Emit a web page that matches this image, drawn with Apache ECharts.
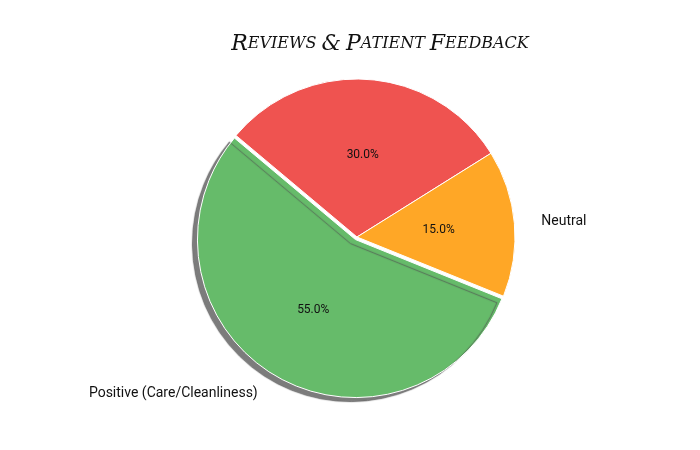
<!DOCTYPE html>
<html><head><meta charset="utf-8">
<script src="https://cdn.jsdelivr.net/npm/echarts@6/dist/echarts.min.js"></script>
<style>html,body{margin:0;background:#fff}#c{width:700px;height:450px}</style>
</head><body><div id="c"></div>
<script>
const categories = ['Negative', 'Neutral', 'Positive (Care/Cleanliness)'];
const values = [30, 15, 55];
const outerLabels = ['', 'Neutral', 'Positive (Care/Cleanliness)'];
const colors = ['#EF5350', '#FFA726', '#66BB6A'];

const chart = echarts.init(document.getElementById('c'));
const common = {
  type: 'pie', center: [357, 237], radius: 158, startAngle: 140,
  clockwise: true, selectedMode: 'single', selectedOffset: 3, animation: false
};
chart.setOption({
  title: {
    text: '{b|R}{s|EVIEWS} {b|&} {b|P}{s|ATIENT} {b|F}{s|EEDBACK}',
    left: 375, top: 28, textAlign: 'center',
    textStyle: { rich: {
      b: { fontFamily: 'DejaVu Serif', fontStyle: 'italic', fontWeight: 'normal', fontSize: 22, color: '#111' },
      s: { fontFamily: 'DejaVu Serif', fontStyle: 'italic', fontWeight: 'normal', fontSize: 16, color: '#111' }
    } }
  },
  series: [
    Object.assign({}, common, {
      data: categories.map((n, i) => ({
        name: n, value: values[i], selected: i === 2,
        itemStyle: Object.assign({ color: colors[i], borderColor: '#fff', borderWidth: 1 },
          i === 2 ? { shadowBlur: 1, shadowOffsetX: -5, shadowOffsetY: 4, shadowColor: 'rgba(80,80,80,0.75)' } : {})
      })),
      label: { position: 'inside', formatter: p => values[p.dataIndex].toFixed(1) + '%',
        fontFamily: 'Roboto', fontSize: 12, color: '#111' },
      labelLine: { show: false }
    }),
    Object.assign({}, common, {
      silent: true, z: 3,
      data: categories.map((n, i) => ({ name: n, value: values[i], selected: i === 2,
        itemStyle: { color: 'transparent' } })),
      label: { position: 'outside', formatter: p => outerLabels[p.dataIndex],
        fontFamily: 'Roboto', fontSize: 14, color: '#111' },
      labelLine: { show: false, length: 22, length2: 0 }
    })
  ]
});
</script></body></html>
